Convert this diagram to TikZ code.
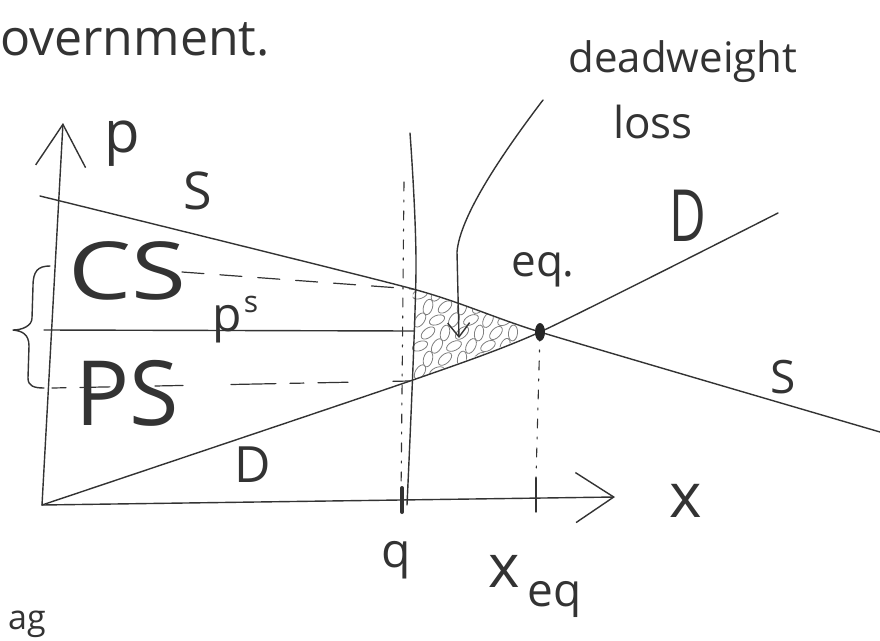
\documentclass[tikz,border=0pt]{standalone}
\usepackage{fontspec}
\setmainfont{Open Sans}
\usetikzlibrary{arrows.meta}
\newcommand{\myfs}[1]{\fontsize{#1}{#1}\selectfont}
\begin{document}
\begin{tikzpicture}[x=1pt,y=-1pt,
  ink/.style={draw=black!80, line width=1.4pt, line cap=round, line join=round},
  dashln/.style={ink, line width=1.2pt, dash pattern=on 22pt off 16pt},
  dashdotln/.style={ink, line width=1.1pt, dash pattern=on 9pt off 9pt on 2pt off 9pt},
  lbl/.style={inner sep=0pt, text=black!80},
  axistip/.style={-{Straight Barb[length=#1, width=50pt]}}
]
\useasboundingbox (0,0) rectangle (880,640);
\fill[white] (0,0) rectangle (880,640);

% key points
\coordinate (O) at (42,505);
\coordinate (Ptip) at (63,123);
\coordinate (Xtip) at (615,497);
\coordinate (EQ) at (540,332);
\coordinate (Sq) at (413,289);
\coordinate (Dq) at (410,381);
\coordinate (S0) at (40,196);
\coordinate (S1) at (880,432);
\coordinate (D1) at (778,213);
\coordinate (Qtop) at (410,133);
\coordinate (Qmid) at (416,270);
\coordinate (Qbot) at (407,505);
\coordinate (Qdot0) at (404,182);
\coordinate (Qdot1) at (401,498);
\coordinate (Pl0) at (44,330);
\coordinate (Pl1) at (414,331);
\coordinate (CSend) at (182,272);
\coordinate (PSstart) at (52,388);
\coordinate (Xeqbot) at (536,478);
\coordinate (TxA) at (536,478);
\coordinate (TxB) at (536,512);
\coordinate (TqA) at (402,488);
\coordinate (TqB) at (402,512);
\coordinate (DWstart) at (543,100);
\coordinate (DWtip) at (459,338);

% deadweight loss scribbles
\begin{scope}
  \clip (Sq) -- (EQ) -- (Dq) -- cycle;
  \foreach \i in {0,...,5}{
    \foreach \j in {0,...,6}{
      \draw[black!50, line width=0.8pt, rotate around={{20+mod(\i*37+\j*53,70)}:({420+\i*17+mod(\j,2)*8},{294+\j*13})}]
        ({420+\i*17+mod(\j,2)*8},{294+\j*13}) ellipse [x radius=8, y radius=4.5];
    }
  }
\end{scope}

% axes
\draw[ink, axistip=42pt] (O) -- (Ptip);
\draw[ink, axistip=38pt] (O) -- (Xtip);

% supply and demand curves
\draw[ink] plot[smooth, tension=0.35] coordinates {(S0) (Sq) (EQ) (S1)};
\draw[ink] plot[smooth, tension=0.35] coordinates {(O) (Dq) (EQ) (D1)};

% quantity line q
\draw[ink] plot[smooth, tension=0.5] coordinates {(Qtop) (Qmid) (Qbot)};
\draw[dashdotln] (Qdot0) -- (Qdot1);
\draw[ink, line width=4pt] (TqA) -- (TqB);

% price line
\draw[ink] (Pl0) -- (Pl1);

% dashed levels
\draw[dashln] (CSend) -- (Sq);
\draw[dashln, dash pattern=on 14pt off 14pt on 30pt off 45pt on 28pt off 48pt on 45pt off 14pt] (PSstart) -- (Dq);

% equilibrium
\draw[dashdotln] (EQ) -- (Xeqbot);
\draw[ink] (TxA) -- (TxB);
\fill[black!85] (EQ) ellipse [x radius=5, y radius=9];

% brace
\draw[ink] (50,266) .. controls (38,266) and (33,271) .. (33,286) -- (32,318)
  .. controls (32,326) and (22,330) .. (13,330)
  .. controls (22,331) and (29,334) .. (29,346) -- (28,378)
  .. controls (28,386) and (34,388) .. (44,388);

% deadweight loss arrow
\draw[ink, -{Straight Barb[length=14pt, width=22pt]}] (DWstart) .. controls (505,150) and (460,215) .. (457,252) -- (DWtip);

% labels
\node[lbl, anchor=base west] (gov) at (0,55) {\myfs{50}overnment.};
\node[lbl, anchor=base] (dw) at (683,72) {\myfs{42}deadweight};
\node[lbl, anchor=base] (loss) at (653,138) {\myfs{44}loss};
\node[lbl, anchor=base] (plab) at (122,152) {\myfs{58}p};
\node[lbl] (slab1) at (198,191) {\myfs{52}S};
\node[lbl, xscale=1.25] (cs) at (127,271) {\myfs{80}CS};
\node[lbl] (ps) at (127,393) {\myfs{90}PS};
\node[lbl, anchor=base west] (psl) at (212,331) {\myfs{48}p};
\node[lbl] (pss) at (251,304) {\myfs{30}s};
\node[lbl] (dlab1) at (253,465) {\myfs{50}D};
\node[lbl, xscale=0.7] (dlab2) at (688,216) {\myfs{72}D};
\node[lbl] (slab2) at (783,377) {\myfs{46}S};
\node[lbl, anchor=base] (eqlab) at (543,276) {\myfs{44}eq.};
\node[lbl] (xlab) at (686,501) {\myfs{62}x};
\node[lbl, anchor=base] (qlab) at (396,567) {\myfs{48}q};
\node[lbl, anchor=base west] (xeq) at (488,587) {\myfs{60}x\hspace{8pt}\raisebox{-19pt}{\myfs{46}eq}};
\node[lbl, anchor=base west] (ag) at (8,629) {\myfs{34}ag};
\end{tikzpicture}
\end{document}
